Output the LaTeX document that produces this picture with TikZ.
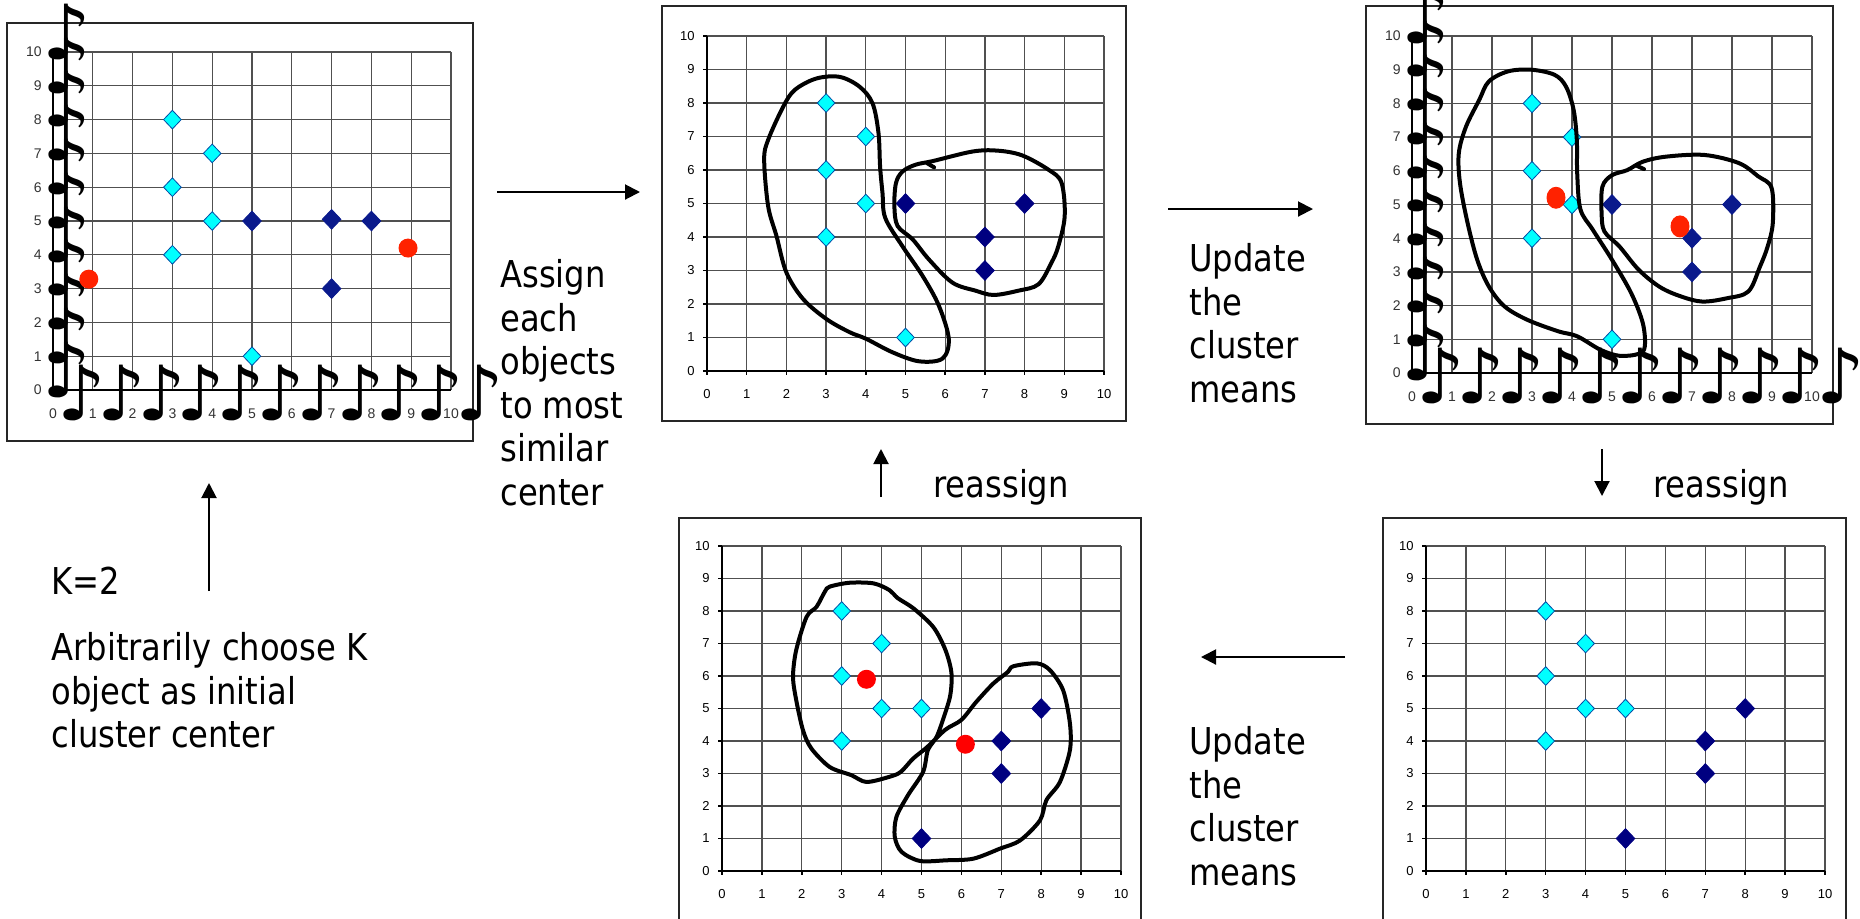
\documentclass[tikz,border=0pt]{standalone}
\usepackage{fontspec}
\setmainfont{DejaVu Sans}[FakeStretch=0.87]
\newfontfamily\tickfont{Liberation Sans}
\newfontfamily\notefont{DejaVu Sans}
\usetikzlibrary{arrows.meta,shapes.geometric}
\definecolor{cyanpt}{HTML}{00FFFF}
\definecolor{navypt}{HTML}{000080}
\definecolor{navyb}{HTML}{0A1A8C}
\definecolor{redc}{HTML}{FF2200}
\definecolor{gridc}{HTML}{505050}
\definecolor{lblc}{HTML}{333333}
\tikzset{
 gridl/.style={draw=gridc, line width=0.65pt},
 axisl/.style={draw=black, line width=0.75pt},
 boxl/.style={draw=black!85, line width=0.8pt},
 cpt/.style={diamond, fill=cyanpt, draw=navypt!70!cyan, line width=0.4pt, inner sep=0pt, minimum width=9pt, minimum height=9.5pt},
 npt/.style={diamond, fill=#1, draw=#1, line width=0.4pt, inner sep=0pt, minimum width=9.5pt, minimum height=10pt},
 npt/.default=navypt,
 cent/.style={circle, fill=redc, inner sep=0pt, minimum size=9.5pt},
 hand/.style={draw=black, line width=2pt, line join=round, line cap=round},
 lbl/.style={font=\tickfont\fontsize{6.5pt}{7pt}\selectfont, inner sep=0pt},
 note/.style={font=\notefont\fontsize{38pt}{38pt}\selectfont, inner sep=0pt, anchor=south west},
 txt/.style={font=\fontsize{18.5pt}{21.75pt}\selectfont, align=left, inner sep=0pt, anchor=north west},
 arr/.style={line width=1pt, -{Triangle[length=7.5pt,width=7.5pt]}},
}
\newcommand\plotgrid[2]{%
 \foreach \k in {1,...,10} {
   \draw[gridl] (\k,0) -- (\k,10);
   \draw[gridl] (0,\k) -- (10,\k);
 }
 \draw[axisl] (0,10) -- (0,0) -- (10,0);
 \foreach \k in {0,...,10} {
   \draw[axisl] (0,\k) -- ++(-2pt,0);
   \draw[axisl] (\k,0) -- ++(0,-2pt);
   \node[lbl, anchor=east, text=#2] (#1yl\k) at ([xshift=-6pt]0,\k) {\k};
   \node[lbl, text=#2] (#1xl\k) at ([yshift=-11.5pt]\k,0) {\k};
 }}
\newcommand\notegrid[2]{%
 \foreach \k in {1,...,10} {
   \draw[gridl] (\k,0) -- (\k,10);
   \draw[gridl] (0,\k) -- (10,\k);
 }
 \draw[axisl] (0,10) -- (0,0) -- (10,0);
 \foreach \k in {0,...,10} {
   \node[lbl, anchor=east, text=#2, font=\tickfont\fontsize{7pt}{7pt}\selectfont] (#1yl\k) at ([xshift=-5.5pt]0,\k) {\k};
   \node[lbl, text=#2, font=\tickfont\fontsize{7pt}{7pt}\selectfont] (#1xl\k) at ([yshift=-12pt]\k,0) {\k};
   \node[note] (#1ny\k) at ([xshift=-5.5pt,yshift=-4pt]0,\k) {♪};
   \node[note] (#1nx\k) at ([xshift=2pt,yshift=-15.5pt]\k,0) {♪};
 }}
\begin{document}
\begin{tikzpicture}[x=0.5pt,y=-0.5pt]
\fill[white] (0,0) rectangle (1860,918);
\useasboundingbox (0,0) rectangle (1860,918);

% ---------- panel boxes
\draw[boxl] (7,23) rectangle (473,441);
\draw[boxl] (662,6) rectangle (1126,421);
\draw[boxl] (1366,6) rectangle (1833,424);
\draw[boxl] (679,930) -- (679,518) -- (1141,518) -- (1141,930);
\draw[boxl] (1383,930) -- (1383,518) -- (1846,518) -- (1846,930);

% ---------- panel 1
\begin{scope}[shift={(53,390)}, x=19.9pt, y=16.9pt]
 \notegrid{pa}{lblc}
 \node[cpt] (pa1) at (3,8) {};
 \node[cpt] (pa2) at (4,7) {};
 \node[cpt] (pa3) at (3,6) {};
 \node[cpt] (pa4) at (4,5) {};
 \node[cpt] (pa5) at (3,4) {};
 \node[cpt] (pa6) at (5,1) {};
 \node[npt=navyb] (pa7) at (5,5) {};
 \node[npt=navyb] (pa8) at (7,5.05) {};
 \node[npt=navyb] (pa9) at (8,5) {};
 \node[npt=navyb] (pa10) at (7,3) {};
 \node[cent] (pac1) at (0.9,3.28) {};
 \node[cent] (pac2) at (8.92,4.2) {};
\end{scope}

% ---------- panel 2
\begin{scope}[shift={(707,371)}, x=19.85pt, y=16.75pt]
 \plotgrid{pb}{black}
 \node[cpt] (pb1) at (3,8) {};
 \node[cpt] (pb2) at (4,7) {};
 \node[cpt] (pb3) at (3,6) {};
 \node[cpt] (pb4) at (4,5) {};
 \node[cpt] (pb5) at (3,4) {};
 \node[cpt] (pb6) at (5,1) {};
 \node[npt] (pb7) at (5,5) {};
 \node[npt] (pb8) at (8,5) {};
 \node[npt] (pb9) at (7,4) {};
 \node[npt] (pb10) at (7,3) {};
 \draw[hand] plot[smooth cycle, tension=0.55] coordinates {(2.21,8.39) (2.75,8.73) (3.34,8.78) (3.84,8.49) (4.17,7.99) (4.32,7.1) (4.36,6.1) (4.42,5.32) (4.49,4.57) (4.92,3.73) (5.43,2.84) (5.84,1.95) (6.09,0.96) (5.93,0.37) (5.34,0.29) (4.67,0.56) (4.01,0.96) (3.59,1.16) (3.01,1.55) (2.42,2.15) (2.0,2.94) (1.75,4.03) (1.54,4.92) (1.44,6.31) (1.54,6.9) (1.92,7.89)};
 \draw[hand] plot[smooth cycle, tension=0.55] coordinates {(5.7,6.27) (6.68,6.55) (7.3,6.58) (7.93,6.44) (8.6,6.01) (8.93,5.62) (9.01,4.62) (8.85,3.73) (8.68,3.24) (8.35,2.59) (7.85,2.4) (7.22,2.27) (6.76,2.4) (6.18,2.64) (5.59,3.33) (5.18,3.93) (4.8,4.33) (4.72,4.92) (4.76,5.61) (4.93,5.96) (5.26,6.16)};
 \draw[hand] (5.55,6.2) -- (5.72,6.08);
\end{scope}

% ---------- panel 3
\begin{scope}[shift={(1412,373)}, x=20pt, y=16.85pt]
 \notegrid{pc}{lblc}
 \node[cpt] (pc1) at (3,8) {};
 \node[cpt] (pc2) at (4,7) {};
 \node[cpt] (pc3) at (3,6) {};
 \node[cpt] (pc4) at (4,5) {};
 \node[cpt] (pc5) at (3,4) {};
 \node[cpt] (pc6) at (5,1) {};
 \node[npt=navyb] (pc7) at (5,5) {};
 \node[npt=navyb] (pc8) at (8,5) {};
 \node[npt=navyb] (pc9) at (7,4) {};
 \node[npt=navyb] (pc10) at (7,3) {};
 \node[cent, ellipse, minimum width=9.5pt, minimum height=11pt] (pcc1) at (3.6,5.2) {};
 \node[cent, ellipse, minimum width=9.5pt, minimum height=11pt] (pcc2) at (6.7,4.35) {};
 \draw[hand] plot[smooth cycle, tension=0.55] coordinates {(1.92,8.65) (2.4,8.95) (2.98,9.0) (3.56,8.85) (3.85,8.5) (4.04,7.81) (4.12,6.92) (4.13,5.93) (4.21,4.86) (4.52,4.25) (5.0,3.36) (5.48,2.37) (5.77,1.48) (5.82,0.79) (5.67,0.57) (5.19,0.51) (4.71,0.69) (4.13,1.09) (3.65,1.24) (2.88,1.58) (2.31,1.98) (1.92,2.57) (1.63,3.36) (1.39,4.45) (1.2,5.63) (1.17,6.52) (1.35,7.31) (1.68,8.1)};
 \draw[hand] plot[smooth cycle, tension=0.55] coordinates {(5.77,6.27) (6.35,6.42) (7.31,6.47) (8.17,6.23) (8.65,5.84) (8.99,5.49) (9.02,4.45) (8.89,3.75) (8.7,3.16) (8.41,2.42) (7.88,2.22) (7.26,2.12) (6.73,2.27) (6.2,2.55) (5.67,3.06) (5.19,3.75) (4.81,4.2) (4.74,4.74) (4.76,5.53) (5.0,5.87) (5.38,6.02)};
 \draw[hand] (5.62,6.15) -- (5.8,6.05);
\end{scope}

% ---------- panel 4
\begin{scope}[shift={(722,871)}, x=19.95pt, y=16.25pt]
 \plotgrid{pd}{black}
 \node[cpt] (pd1) at (3,8) {};
 \node[cpt] (pd2) at (4,7) {};
 \node[cpt] (pd3) at (3,6) {};
 \node[cpt] (pd4) at (4,5) {};
 \node[cpt] (pd5) at (5,5) {};
 \node[cpt] (pd6) at (3,4) {};
 \node[npt] (pd7) at (8,5) {};
 \node[npt] (pd8) at (7,4) {};
 \node[npt] (pd9) at (7,3) {};
 \node[npt] (pd10) at (5,1) {};
 \node[cent, fill=red] (pdc1) at (3.62,5.9) {};
 \node[cent, fill=red] (pdc2) at (6.1,3.9) {};
 \draw[hand] plot[smooth cycle, tension=0.5] coordinates {(2.7,8.75) (3.2,8.87) (3.8,8.85) (4.2,8.64) (4.4,8.4) (4.8,8.08) (5.3,7.5) (5.6,6.8) (5.75,6.1) (5.72,5.4) (5.55,4.7) (5.38,4.13) (5.16,3.72) (5.04,3.05) (4.66,2.33) (4.37,1.66) (4.33,1.05) (4.5,0.59) (4.96,0.31) (5.63,0.33) (6.3,0.38) (6.97,0.69) (7.47,0.94) (7.97,1.56) (8.13,2.18) (8.47,2.74) (8.72,3.72) (8.72,4.54) (8.55,5.56) (8.22,6.18) (7.89,6.39) (7.3,6.3) (7.17,6.13) (6.8,5.77) (6.37,5.2) (6.0,4.65) (5.6,4.35) (5.13,3.8) (4.79,3.46) (4.48,3.05) (4.2,2.9) (3.62,2.74) (3.24,2.95) (2.7,3.2) (2.24,3.77) (2.03,4.33) (1.86,5.26) (1.78,5.98) (1.86,6.8) (2.12,7.82) (2.37,8.13) (2.58,8.6)};
\end{scope}

% ---------- panel 5
\begin{scope}[shift={(1426,871)}, x=19.95pt, y=16.25pt]
 \plotgrid{pe}{black}
 \node[cpt] (pe1) at (3,8) {};
 \node[cpt] (pe2) at (4,7) {};
 \node[cpt] (pe3) at (3,6) {};
 \node[cpt] (pe4) at (4,5) {};
 \node[cpt] (pe5) at (5,5) {};
 \node[cpt] (pe6) at (3,4) {};
 \node[npt] (pe7) at (8,5) {};
 \node[npt] (pe8) at (7,4) {};
 \node[npt] (pe9) at (7,3) {};
 \node[npt] (pe10) at (5,1) {};
\end{scope}

% ---------- texts
\node[txt] (assign) at (500,259) {Assign\\each\\objects\\to most\\similar\\center};
\node[txt] (upd1) at (1189,243) {Update\\the\\cluster\\means};
\node[txt] (upd2) at (1189,726) {Update\\the\\cluster\\means};
\node[txt, anchor=base west] (re1) at (933,497) {reassign};
\node[txt, anchor=base west] (re2) at (1653,497) {reassign};
\node[txt, anchor=base west] (k2) at (51,594) {K=2};
\node[txt] (arb) at (51,632) {Arbitrarily choose K\\object as initial\\cluster center};

% ---------- arrows
\coordinate (a1s) at (497,192); \coordinate (a1e) at (640,192);
\coordinate (a2s) at (1168,209); \coordinate (a2e) at (1313,209);
\coordinate (a3s) at (209,591); \coordinate (a3e) at (209,483);
\coordinate (a4s) at (881,497); \coordinate (a4e) at (881,449);
\coordinate (a5s) at (1602,449); \coordinate (a5e) at (1602,496);
\coordinate (a6s) at (1345,657); \coordinate (a6e) at (1201,657);
\draw[arr] (a1s) -- (a1e);
\draw[arr] (a2s) -- (a2e);
\draw[arr] (a3s) -- (a3e);
\draw[arr] (a4s) -- (a4e);
\draw[arr] (a5s) -- (a5e);
\draw[arr] (a6s) -- (a6e);
\end{tikzpicture}
\end{document}
